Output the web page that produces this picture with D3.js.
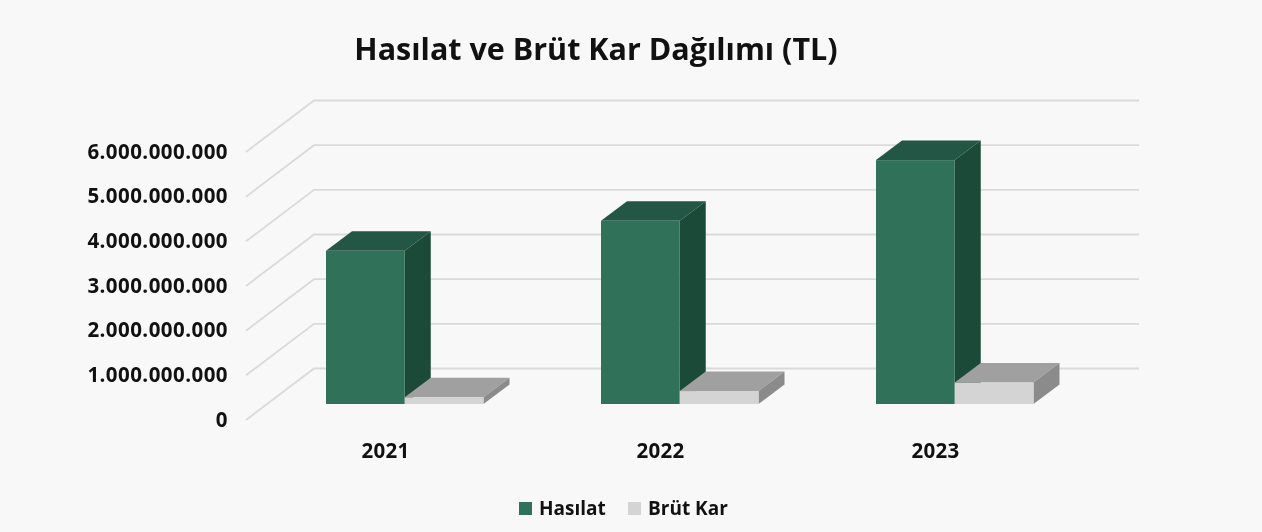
<!DOCTYPE html>
<html lang="tr"><head><meta charset="utf-8">
<script src="https://cdn.jsdelivr.net/npm/d3@7/dist/d3.min.js"></script>
<style>
html,body{margin:0;padding:0;background:#f8f8f8;overflow:hidden}
svg{display:block;filter:blur(0.7px)}
text{font-family:"Open Sans","Noto Sans",sans-serif;fill:#111}
</style></head><body><svg id="c" width="1262" height="532"></svg>
<script>
const years = ["2021","2022","2023"];
const seriesNames = ["Hasılat","Brüt Kar"];
const hasilat = [3430000000,4100000000,5460000000];
const brutKar = [150000000,290000000,480000000];
const tickValues = [0,1000000000,2000000000,3000000000,4000000000,5000000000,6000000000];
const titleText = "Hasılat ve Brüt Kar Dağılımı (TL)";
const palette = {
  "Hasılat": {front:"#30715a",top:"#235645",side:"#1c4a39"},
  "Brüt Kar": {front:"#d4d4d4",top:"#a0a0a0",side:"#8b8b8b"}
};

const svg = d3.select("#c");
svg.append("rect").attr("width",1262).attr("height",532).attr("fill","#f8f8f8");

const floorDx = 68, floorDy = -51.5;      // full chart depth
const barDx = 26, barDy = -19.5;          // bar depth
const left = 246, right = 1071;
const y = d3.scaleLinear().domain([0,6000000000]).range([420,152]);
const locale = d3.formatLocale({decimal:",",thousands:".",grouping:[3],currency:["","₺"]});

// gridlines: side wall and back wall
const grid = svg.append("g").attr("fill","none").attr("stroke","#dadada").attr("stroke-width",1.8);
grid.selectAll("path").data(tickValues).join("path")
  .attr("d",d=>d3.line()([[left,y(d)],[left+floorDx,y(d)+floorDy],[right+floorDx,y(d)+floorDy]]));

// value axis
const yAxis = d3.axisLeft(y).tickValues(tickValues).tickSize(0).tickPadding(0).tickFormat(locale.format(",d"));
const gy = svg.append("g").attr("transform","translate(228,-0.5)").call(yAxis);
gy.select(".domain").remove();
gy.selectAll("text").style("font-size","20.5px").style("font-weight",700).style("letter-spacing","0.45px").attr("fill","#111");

// category axis
const x = d3.scaleBand().domain(years).range([left+21.5,right+21.5]);
const inner = d3.scaleBand().domain(seriesNames).range([58.5,216]);
const xLabels = d3.scaleBand().domain(years).range([left+2,right+2]);
const gx = svg.append("g").attr("transform","translate(0,451)").call(d3.axisBottom(xLabels).tickSize(0).tickPadding(0));
gx.select(".domain").remove();
gx.selectAll("text").attr("dy","0.32em").attr("y",0).style("font-size","20.5px").style("font-weight",700).style("letter-spacing","0.3px").attr("fill","#111");

// bars: the front plane sits above the chart's front floor edge; grey is painted over green
const baseShift = y(0) - 404;
const rows = [];
seriesNames.forEach((s,si)=>{
  const vals = si===0 ? hasilat : brutKar;
  years.forEach((yr,i)=>rows.push({series:s,year:yr,value:vals[i]}));
});
const bars = svg.append("g").selectAll("g").data(rows).join("g");
bars.each(function(d){
  const g = d3.select(this), c = palette[d.series];
  const x0 = x(d.year)+inner(d.series), x1 = x0+inner.bandwidth();
  const y0 = y(0)-baseShift, y1 = y(d.value)-baseShift;
  const pts = a=>a.map(p=>p.join(",")).join(" ");
  g.append("polygon").attr("fill",c.top)
    .attr("points",pts([[x0,y1],[x0+barDx,y1+barDy],[x1+barDx,y1+barDy],[x1,y1]]));
  g.append("polygon").attr("fill",c.side)
    .attr("points",pts([[x1,y1],[x1+barDx,y1+barDy],[x1+barDx,y0+barDy],[x1,y0]]));
  g.append("rect").attr("x",x0).attr("y",y1).attr("width",x1-x0).attr("height",y0-y1)
    .attr("fill",c.front);
});

// title
svg.append("text").attr("x",596).attr("y",60).attr("text-anchor","middle")
  .style("font-size","30.5px").style("font-weight",700).text(titleText);

// legend
const legendX = d3.scaleOrdinal().domain(seriesNames).range([519,628]);
const lg = svg.append("g").selectAll("g").data(seriesNames).join("g")
  .attr("transform",d=>`translate(${legendX(d)},502)`);
lg.append("rect").attr("width",13).attr("height",13).attr("fill",d=>palette[d].front);
lg.append("text").attr("x",20).attr("y",13).style("font-size","19px").style("font-weight",700).attr("fill","#222").text(d=>d);
</script></body></html>
